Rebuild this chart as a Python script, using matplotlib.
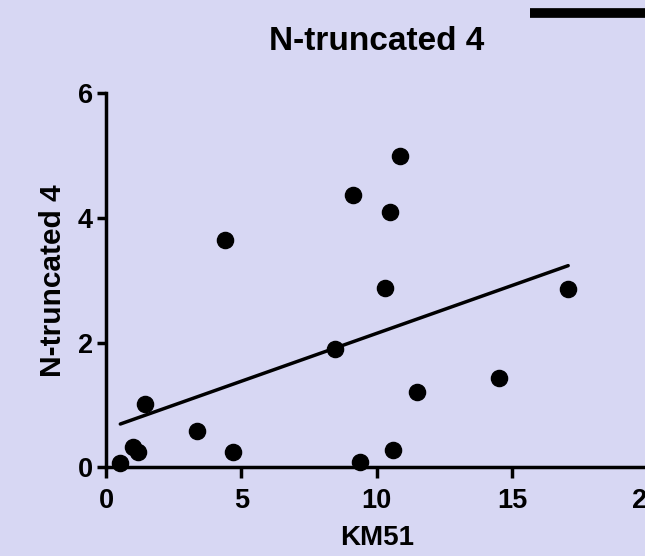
import numpy as np
import matplotlib
matplotlib.use("Agg")
import matplotlib.pyplot as plt
from matplotlib.lines import Line2D

# values
km51 = [0.53, 1.0, 1.2, 1.45, 3.38, 4.4, 4.7, 8.47, 9.13, 9.4,
        10.3, 10.5, 10.6, 10.87, 11.5, 14.5, 17.07]
ntrunc4 = [0.07, 0.33, 0.25, 1.02, 0.58, 3.65, 0.25, 1.9, 4.37, 0.08,
           2.88, 4.09, 0.28, 4.99, 1.21, 1.43, 2.86]
x_ticks = [0, 5, 10, 15, 20]
y_ticks = [0, 2, 4, 6]

bg = "#d7d7f3"
plt.rcParams["font.family"] = ["Liberation Sans", "DejaVu Sans"]

fig = plt.figure(figsize=(6.45, 5.56), dpi=100, facecolor=bg)
ax = fig.add_axes([0.1643, 0.1595, 0.8396, 0.6727], facecolor=bg)

x = np.array(km51)
y = np.array(ntrunc4)
slope, intercept = np.polyfit(x, y, 1)
xf = np.array([x.min(), x.max()])
ax.plot(xf, slope * xf + intercept, color="black", lw=2.5, solid_capstyle="round", zorder=2)
ax.scatter(x, y, s=135, color="black", zorder=3, clip_on=False)

ax.set_xlim(0, 20)
ax.set_ylim(0, 6)
ax.set_xticks(x_ticks)
ax.set_yticks(y_ticks)
for s in ["top", "right"]:
    ax.spines[s].set_visible(False)
for s in ["left", "bottom"]:
    ax.spines[s].set_linewidth(2.5)
ax.tick_params(axis="x", direction="out", length=8, width=2.5, pad=7)
ax.tick_params(axis="y", direction="out", length=6.5, width=2.5, pad=3)
for lab in ax.get_xticklabels() + ax.get_yticklabels():
    lab.set_fontweight("bold")
    lab.set_fontsize(19.5)

ax.set_title("N-truncated 4", fontsize=24, fontweight="bold", pad=31)
ax.set_xlabel("KM51", fontsize=20, fontweight="bold", labelpad=8)
ax.set_ylabel("N-truncated 4", fontsize=21.5, fontweight="bold", labelpad=8)

# black bar at top right (cut off at the edge)
fig.add_artist(Line2D([0.822, 1.0], [0.977, 0.977], color="black", lw=7,
                      transform=fig.transFigure, solid_capstyle="butt"))

fig.savefig("out.png", dpi=100, facecolor=bg)
